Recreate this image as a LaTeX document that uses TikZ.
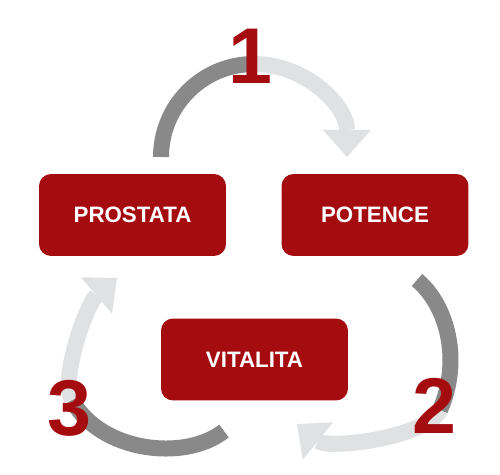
\documentclass[tikz,border=0pt]{standalone}
\usepackage{fontspec}
\setmainfont{Liberation Sans}
\usepackage{tikz}
\usepackage{xcolor}
\usetikzlibrary{arrows.meta}
\definecolor{redbox}{RGB}{165,12,16}
\definecolor{darkgrey}{RGB}{137,137,138}
\definecolor{lightgrey}{RGB}{224,225,227}
\tikzstyle{rb}=[fill=redbox, rounded corners=0.24cm, minimum width=3.74cm,
		minimum height=1.64cm, inner sep=0, text=white,
		font=\fontsize{12.7}{15}\selectfont\bfseries]
\tikzstyle{dg}=[draw=darkgrey, line width=0.32cm]
\tikzstyle{lg}=[draw=lightgrey, line width=0.32cm,
		-{Triangle[width=0.96cm, length=0.54cm, line width=0pt]}]
\tikzstyle{nr}=[inner sep=0, text=redbox, font=\fontsize{45}{50}\selectfont\bfseries]
\begin{document}
\begin{tikzpicture}[x=0.02cm, y=-0.02cm]
                \useasboundingbox (0,0) rectangle (500,475);
                \node[rb] (prostata) at (132.5,215) {PROSTATA};
                \node[rb] (potence) at (375,215) {POTENCE};
                \node[rb] (vitalita) at (254.5,359.5) {VITALITA};
                % arc ends and joints (under the numbers)
                \coordinate (s1) at (161,157); \coordinate (j1) at (254,64); \coordinate (e1) at (347,157);
                \coordinate (s2) at (417,280); \coordinate (j2) at (440,410); \coordinate (e2) at (297,424);
                \coordinate (s3) at (224,431); \coordinate (j3) at (72,400); \coordinate (e3) at (117,278);
                \draw[dg] (s1) .. controls (161,105.6) and (202.6,64) .. (j1);
                \draw[lg] (j1) .. controls (305.4,64) and (347,105.6) .. (e1);
                \draw[dg] (s2) .. controls (447,305) and (462,360) .. (j2);
                \draw[lg] (j2) .. controls (428,437) and (329,450) .. (e2);
                \draw[dg] (s3) .. controls (185,462) and (100,452) .. (j3);
                \draw[lg] (j3) .. controls (60,378) and (86.6,304) .. (e3);
                \node[nr] (n1) at (250,56) {1};
                \node[nr] (n2) at (434,406) {2};
                \node[nr] (n3) at (69,408) {3};
            \end{tikzpicture}
\end{document}
